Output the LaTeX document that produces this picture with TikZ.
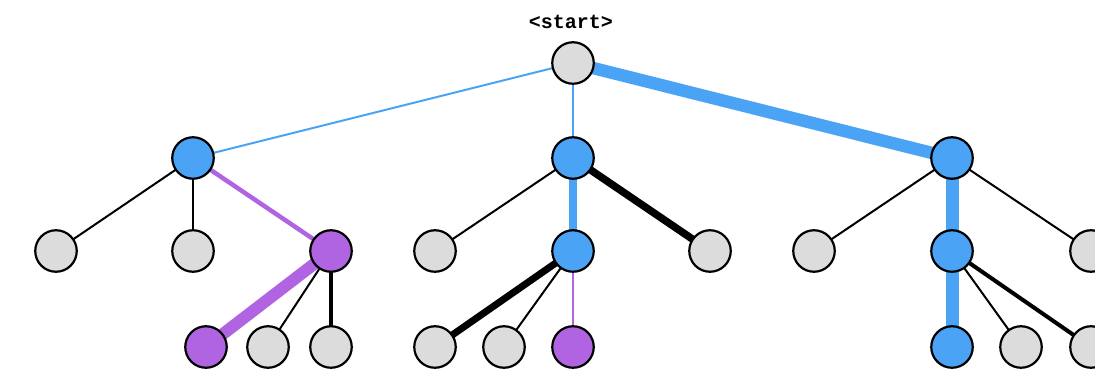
\documentclass[tikz,border=0pt]{standalone}
\usepackage{fontspec}
\usetikzlibrary{backgrounds}
\newfontfamily\monob{Liberation Mono}[BoldFont={Liberation Mono Bold}]
\definecolor{nblue}{RGB}{74,163,244}
\definecolor{npurple}{RGB}{176,100,226}
\definecolor{ngrey}{RGB}{220,220,220}
\tikzset{
  vtx/.style={circle,draw=black,line width=2.2pt,minimum size=41.5pt,inner sep=0pt},
  gv/.style={vtx,fill=ngrey},
  bv/.style={vtx,fill=nblue},
  pv/.style={vtx,fill=npurple},
  kedge/.style={draw=black,line width=#1},
  bedge/.style={draw=nblue,line width=#1},
  pedge/.style={draw=npurple,line width=#1},
}
\begin{document}
\begin{tikzpicture}[x=1pt,y=-1pt]
\useasboundingbox (0,0) rectangle (1095,382);
\node[font=\monob\bfseries\fontsize{20}{22}\selectfont] (lbl) at (571,22) {<start>};
% nodes
\node[gv] (r) at (573,63) {};
\node[bv] (a) at (193,158) {};
\node[bv] (b) at (573,158) {};
\node[bv] (c) at (952,158) {};
\node[gv] (a1) at (56,251) {};
\node[gv] (a2) at (193,251) {};
\node[pv] (a3) at (331,251) {};
\node[gv] (b1) at (435,251) {};
\node[bv] (b2) at (573,251) {};
\node[gv] (b3) at (710,251) {};
\node[gv] (c1) at (814,251) {};
\node[bv] (c2) at (952,251) {};
\node[gv] (c3) at (1091,251) {};
\node[pv] (a31) at (206,347) {};
\node[gv] (a32) at (268,347) {};
\node[gv] (a33) at (331,347) {};
\node[gv] (b21) at (435,347) {};
\node[gv] (b22) at (504,347) {};
\node[pv] (b23) at (573,347) {};
\node[bv] (c21) at (952,347) {};
\node[gv] (c22) at (1021,347) {};
\node[gv] (c23) at (1091,347) {};
% edges
\begin{pgfonlayer}{background}
\draw[bedge=2pt] (r.center) -- (a.center);
\draw[bedge=1.6pt] (r.center) -- (b.center);
\draw[bedge=12.5pt] (r.center) -- (c.center);
\draw[kedge=2pt] (a.center) -- (a1.center);
\draw[kedge=2pt] (a.center) -- (a2.center);
\draw[pedge=4.5pt] (a.center) -- (a3.center);
\draw[pedge=12pt] (a3.center) -- (a31.center);
\draw[kedge=2pt] (a3.center) -- (a32.center);
\draw[kedge=4.5pt] (a3.center) -- (a33.center);
\draw[kedge=2pt] (b.center) -- (b1.center);
\draw[bedge=8pt] (b.center) -- (b2.center);
\draw[kedge=7.5pt] (b.center) -- (b3.center);
\draw[kedge=7pt] (b2.center) -- (b21.center);
\draw[kedge=2pt] (b2.center) -- (b22.center);
\draw[pedge=1.6pt] (b2.center) -- (b23.center);
\draw[kedge=2pt] (c.center) -- (c1.center);
\draw[bedge=13pt] (c.center) -- (c2.center);
\draw[kedge=2pt] (c.center) -- (c3.center);
\draw[bedge=13pt] (c2.center) -- (c21.center);
\draw[kedge=2pt] (c2.center) -- (c22.center);
\draw[kedge=4pt] (c2.center) -- (c23.center);
\end{pgfonlayer}
\end{tikzpicture}
\end{document}
